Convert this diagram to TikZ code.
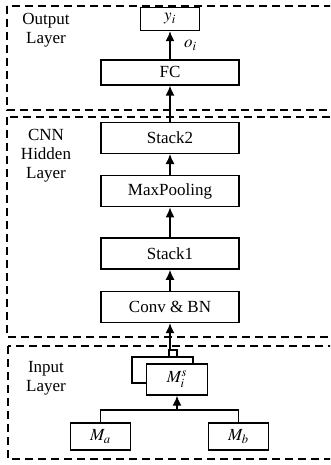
\documentclass[tikz,border=0pt]{standalone}
\usepackage{mathptmx}
\usepackage[no-math]{fontspec}
\setmainfont{Liberation Serif}
\usetikzlibrary{arrows,arrows.meta,positioning}
\tikzstyle{block}=[draw,line width=1.4pt,fill=white,minimum width=138pt,minimum height=31pt,inner sep=2pt]
\tikzstyle{small}=[block,minimum width=60pt,minimum height=27pt]
\tikzstyle{layer}=[draw,line width=1.4pt,dash pattern=on 8pt off 5pt]
\tikzstyle{post}=[-{Latex[length=10pt,width=9pt]},line width=1.4pt]

\begin{document}
\begin{tikzpicture}[
        x=1pt,y=-1pt,
        font=\fontsize{17}{19}\selectfont,
        every node/.style={align=center}
        ]
        \clip (0,0) rectangle (330,465);
        % layers
        \draw[layer] (7,6) rectangle (345,110);
        \draw[layer] (7,117) rectangle (345,337);
        \draw[layer] (8,346) rectangle (345,459);
        \node(lout) at (46,30) {Output\\Layer};
        \node(lcnn) at (46,156) {CNN\\Hidden\\Layer};
        \node(lin) at (46,378) {Input\\Layer};
        % cnn blocks
        \node[block](conv) at (170,307) {Conv \& BN};
        \node[block](s1) [above=21pt of conv] {Stack1};
        \node[block](mp) [above=30pt of s1] {MaxPooling};
        \node[block](s2) [above=21pt of mp] {Stack2};
        \node[block,minimum height=25pt](fc) [above=36pt of s2] {FC};
        \node[small,minimum width=59pt,minimum height=23pt](y) [above=28pt of fc] {$y_i$};
        % input samples
        \draw[line width=1.4pt] (169,357) |- (177,350) -- (177,364);
        \node[small,minimum width=61pt,minimum height=26pt](mback) at (162.5,370) {};
        \node[small,minimum width=61pt,minimum height=31pt](ms) at (177,379.5) {$M_i^s$};
        \node[small](ma) at (100.5,436.5) {$M_a$};
        \node[small](mb) at (238.5,436.5) {$M_b$};
        \coordinate(jn) at (177,410);
        \coordinate(stk) at (170,350);
        \draw[line width=1.4pt] (ma.north) |- (jn) -| (mb.north);
        \path[post]
        (jn) edge (ms)
        (stk) edge (conv)
        (conv) edge (s1)
        (s1) edge (mp)
        (mp) edge (s2)
        (s2) edge (fc)
        (fc) edge node[right,xshift=10pt] {$o_i$} (y)
        ;
    \end{tikzpicture}
\end{document}
